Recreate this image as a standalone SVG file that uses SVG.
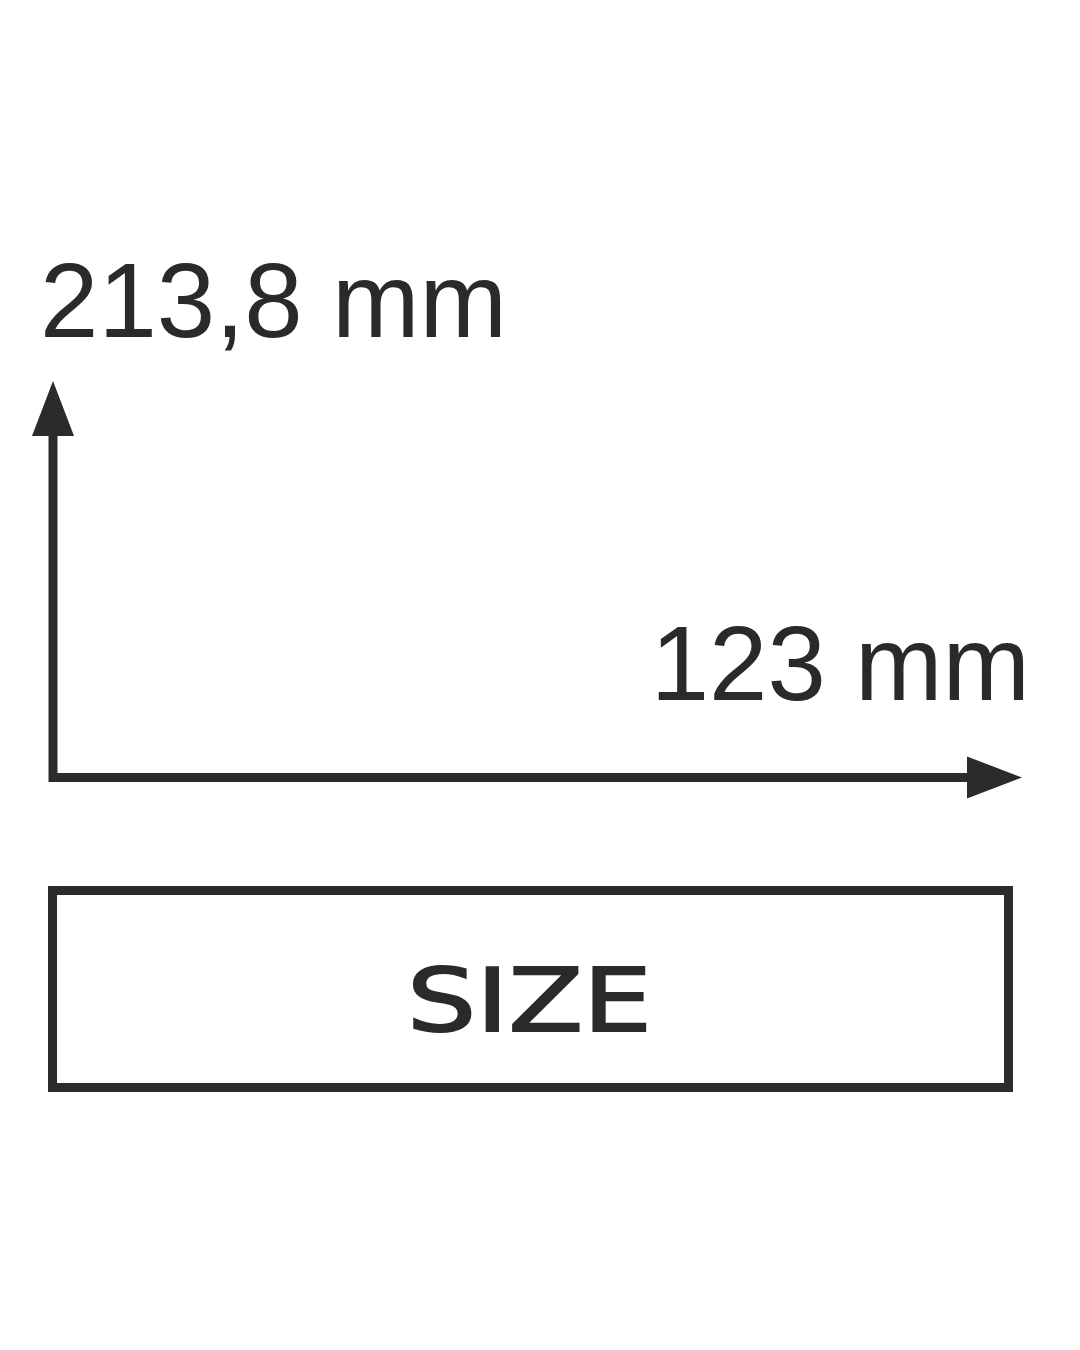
<svg xmlns="http://www.w3.org/2000/svg" width="1080" height="1350" viewBox="0 0 1080 1350">
<style>
.lbl{font-family:"Liberation Sans",Arial,sans-serif;font-size:105px;fill:#2a2a2a}
.ln{stroke:#2b2b2b;stroke-width:9;fill:none}
.hd{fill:#2b2b2b}
</style>
<rect width="1080" height="1350" fill="#ffffff"/>
<g id="connectors">
<path class="ln" d="M53 436 L53 777.5 L968 777.5" stroke-linejoin="miter"/>
<polygon class="hd" points="53,381 32,436 74,436"/>
<polygon class="hd" points="1022,777.5 967,756.5 967,798.5"/>
</g>
<g id="label-height">
<text class="lbl" x="40" y="337">213,8 mm</text>
</g>
<g id="label-width">
<text class="lbl" x="1030" y="700" text-anchor="end">123 mm</text>
</g>
<g id="size-box">
<rect class="ln" x="52.5" y="890.5" width="956" height="197"/>
<text x="407" y="1031" font-family="DejaVu Sans,sans-serif" font-size="88" fill="#2a2a2a" stroke="#2a2a2a" stroke-width="2" textLength="245" lengthAdjust="spacingAndGlyphs">SIZE</text>
</g>
</svg>
